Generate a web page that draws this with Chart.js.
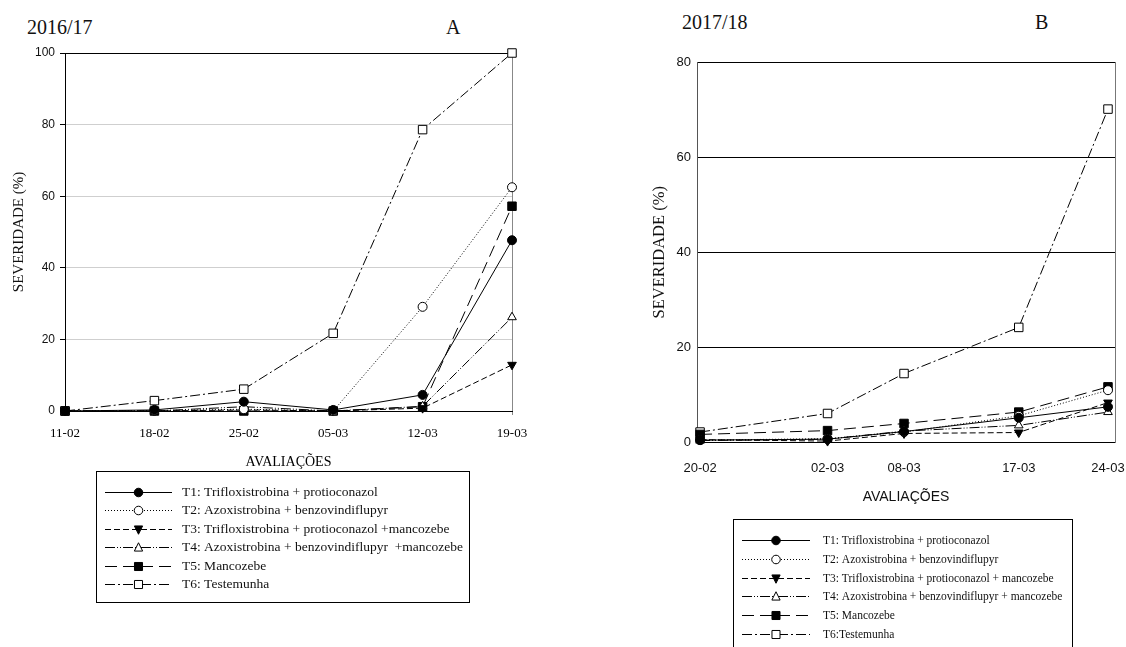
<!DOCTYPE html>
<html lang="pt-br">
<head>
<meta charset="UTF-8">
<title>Severidade</title>
<script src="https://cdn.jsdelivr.net/npm/chart.js"></script>
<style>
  body { margin: 0; background: #fff; width: 1126px; height: 647px; overflow: hidden; position: relative; }
  canvas { position: absolute; top: 0; }
  #cA { left: 0; }
  #cB { left: 560px; }
  .lbl { position: absolute; font-family: "Liberation Serif", serif; font-size: 20px; color: #111; line-height: 1; white-space: nowrap; }
</style>
</head>
<body>
<div class="lbl" style="left:27px;top:17px">2016/17</div>
<div class="lbl" style="left:446px;top:17px">A</div>
<div class="lbl" style="left:682px;top:12px">2017/18</div>
<div class="lbl" style="left:1035px;top:12px">B</div>
<canvas id="cA" width="560" height="647"></canvas>
<canvas id="cB" width="566" height="647"></canvas>
<script>
// --- dados 2016/17 (A)
const datasA = ['11-02', '18-02', '25-02', '05-03', '12-03', '19-03'];
const a_t1 = [0, 0.3, 2.6, 0.3, 4.5, 47.7];
const a_t2 = [0, 0.1, 0.5, 0, 29.1, 62.5];
const a_t3 = [0, 0, 0.3, 0, 0.8, 12.9];
const a_t4 = [0, 0, 1.2, 0, 1.3, 26.2];
const a_t5 = [0, 0, 0, 0, 1.2, 57.2];
const a_t6 = [0, 2.9, 6.1, 21.7, 78.6, 100];

// --- dados 2017/18 (B), eixo x em dias desde 20-02
const diasB = [0, 10, 16, 25, 32];
const datasB = ['20-02', '02-03', '08-03', '17-03', '24-03'];
const b_t1 = [0.5, 0.7, 2.3, 5.2, 7.5];
const b_t2 = [0.5, 0.8, 2.2, 5.6, 11.0];
const b_t3 = [0.6, 0.3, 1.9, 2.1, 8.4];
const b_t4 = [0.4, 0.7, 2.4, 3.6, 6.4];
const b_t5 = [1.7, 2.5, 4.0, 6.4, 11.7];
const b_t6 = [2.2, 6.1, 14.5, 24.2, 70.1];

const nomesA = [
  'T1: Trifloxistrobina + protioconazol',
  'T2: Azoxistrobina + benzovindiflupyr',
  'T3: Trifloxistrobina + protioconazol +mancozebe',
  'T4: Azoxistrobina + benzovindiflupyr  +mancozebe',
  'T5: Mancozebe',
  'T6: Testemunha'
];
const nomesB = [
  'T1: Trifloxistrobina + protioconazol',
  'T2: Azoxistrobina + benzovindiflupyr',
  'T3: Trifloxistrobina + protioconazol + mancozebe',
  'T4: Azoxistrobina + benzovindiflupyr + mancozebe',
  'T5: Mancozebe',
  'T6:Testemunha'
];

// estilo de cada tratamento
const estilos = [
  { dash: [], point: 'circle', fill: '#000', r: 4.5, rot: 0 },
  { dash: [1, 2], point: 'circle', fill: '#fff', r: 4.5, rot: 0 },
  { dash: [6, 3], point: 'triangle', fill: '#000', r: 5, rot: 180 },
  { dash: [10, 2, 1, 2, 1, 2], point: 'triangle', fill: '#fff', r: 5, rot: 0 },
  { dash: [12, 6], point: 'rect', fill: '#000', r: 6, rot: 0 },
  { dash: [10, 3, 2, 3], point: 'rect', fill: '#fff', r: 6, rot: 0 }
];

function serie(nome, valores, i, xs) {
  const e = estilos[i];
  return {
    label: nome,
    data: xs ? valores.map((v, k) => ({ x: xs[k], y: v })) : valores,
    borderColor: '#000',
    borderWidth: 1,
    borderDash: e.dash,
    tension: 0,
    pointStyle: e.point,
    pointRotation: e.rot,
    pointRadius: e.r,
    pointBackgroundColor: e.fill,
    pointBorderColor: '#000',
    pointBorderWidth: 1,
    clip: false
  };
}

function marcador(ctx, tipo, x, y, r, rot, fill) {
  ctx.save();
  ctx.setLineDash([]);
  ctx.fillStyle = fill;
  ctx.strokeStyle = '#000';
  ctx.lineWidth = 1;
  ctx.beginPath();
  if (tipo === 'circle') {
    ctx.arc(x, y, r, 0, Math.PI * 2);
  } else if (tipo === 'rect') {
    const s = r * Math.SQRT1_2;
    ctx.rect(x - s, y - s, 2 * s, 2 * s);
  } else {
    const d = rot ? -1 : 1;
    const h = r * 1.5 / 2;
    ctx.moveTo(x, y - d * r);
    ctx.lineTo(x - r * 0.87, y + d * h);
    ctx.lineTo(x + r * 0.87, y + d * h);
    ctx.closePath();
  }
  ctx.fill();
  ctx.stroke();
  ctx.restore();
}

// legenda em caixa, com amostra de linha + marcador
const legendaCaixa = {
  id: 'legendaCaixa',
  afterDraw(chart, args, o) {
    const ctx = chart.ctx;
    ctx.save();
    ctx.strokeStyle = '#000';
    ctx.lineWidth = 1;
    ctx.strokeRect(o.x + 0.5, o.y + 0.5, o.w, o.h);
    ctx.font = o.font;
    ctx.fillStyle = '#111';
    ctx.textBaseline = 'middle';
    chart.data.datasets.forEach((ds, i) => {
      const e = estilos[i];
      const y = Math.round(o.y0 + i * o.gap) + 0.5;
      ctx.beginPath();
      ctx.setLineDash(e.dash);
      ctx.moveTo(o.sx0, y);
      ctx.lineTo(o.sx1, y);
      ctx.stroke();
      marcador(ctx, e.point, (o.sx0 + o.sx1) / 2, y, e.r * 0.95, e.rot, e.fill);
      ctx.fillText(ds.label, o.tx, y);
    });
    ctx.restore();
  }
};

new Chart(document.getElementById('cA'), {
  type: 'line',
  data: {
    labels: datasA,
    datasets: [a_t1, a_t2, a_t3, a_t4, a_t5, a_t6].map((v, i) => serie(nomesA[i], v, i))
  },
  options: {
    responsive: false,
    animation: false,
    layout: { padding: { left: 0, top: 53, right: 48, bottom: 176 } },
    plugins: {
      legend: { display: false },
      tooltip: { enabled: false },
      legendaCaixa: { x: 96, y: 471, w: 373, h: 131, y0: 491.5, gap: 18.5, sx0: 105, sx1: 172, tx: 182,
        font: '13.5px "Liberation Serif"' }
    },
    scales: {
      x: {
        grid: {
          color: c => c.index === datasA.length - 1 ? '#888' : 'rgba(0,0,0,0)',
          tickLength: 4
        },
        border: { color: '#000' },
        ticks: { color: '#000', padding: 11, maxRotation: 0, autoSkip: false,
          font: { family: 'Liberation Serif', size: 13 } },
        title: { display: true, text: 'AVALIAÇÕES', color: '#000', padding: 0,
          font: { family: 'Liberation Serif', size: 14 } },
        afterFit: s => { s.height = 60; s.paddingLeft = 0; s.paddingRight = 0; }
      },
      y: {
        min: 0, max: 100,
        grid: {
          color: c => (c.tick.value === 100 || c.tick.value === 0) ? '#000' : '#cfcfcf',
          tickColor: '#000',
          tickLength: 5
        },
        border: { color: '#000' },
        ticks: { stepSize: 20, color: '#111', padding: 5, font: { family: 'Liberation Sans', size: 12 } },
        title: { display: true, text: 'SEVERIDADE (%)', color: '#111', padding: { top: 10, bottom: 0 },
          font: { family: 'Liberation Serif', size: 15 } },
        afterFit: s => { s.width = 65; }
      }
    }
  },
  plugins: [legendaCaixa]
});

new Chart(document.getElementById('cB'), {
  type: 'line',
  data: {
    datasets: [b_t1, b_t2, b_t3, b_t4, b_t5, b_t6].map((v, i) => serie(nomesB[i], v, i, diasB))
  },
  options: {
    responsive: false,
    animation: false,
    layout: { padding: { left: 80, top: 62, right: 11, bottom: 141 } },
    plugins: {
      legend: { display: false },
      tooltip: { enabled: false },
      legendaCaixa: { x: 173, y: 519, w: 339, h: 140, y0: 540, gap: 18.8, sx0: 182, sx1: 250, tx: 263,
        font: '11.5px "Liberation Serif"' }
    },
    scales: {
      x: {
        type: 'linear',
        min: -0.24, max: 32.55,
        afterBuildTicks: s => { s.ticks = diasB.map(v => ({ value: v })); },
        grid: { display: false },
        border: { color: '#000' },
        ticks: {
          color: '#111', padding: 10, maxRotation: 0, autoSkip: false,
          font: { family: 'Liberation Sans', size: 13 },
          callback: v => datasB[diasB.indexOf(v)]
        },
        title: { display: true, text: 'AVALIAÇÕES', color: '#111', padding: 0,
          font: { family: 'Liberation Sans', size: 14 } },
        afterFit: s => { s.height = 63.5; s.paddingLeft = 0; s.paddingRight = 0; }
      },
      y: {
        min: 0, max: 80,
        grid: { color: '#000', drawTicks: false },
        border: { color: '#555' },
        ticks: { stepSize: 20, color: '#111', padding: 6, font: { family: 'Liberation Sans', size: 13 } },
        title: { display: true, text: 'SEVERIDADE (%)', color: '#111', padding: { top: 10, bottom: 0 },
          font: { family: 'Liberation Serif', size: 16.5 } },
        afterFit: s => { s.width = 57; }
      },
      yDir: {
        position: 'right',
        min: 0, max: 80,
        grid: { display: false },
        border: { color: '#777' },
        ticks: { display: false },
        afterFit: s => { s.width = 0; }
      }
    }
  },
  plugins: [legendaCaixa]
});
</script>
</body>
</html>
